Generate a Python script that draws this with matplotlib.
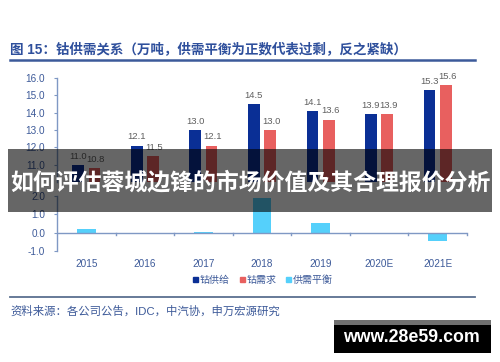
import matplotlib
matplotlib.use("Agg")
import matplotlib.pyplot as plt
import numpy as np
from matplotlib.patches import Patch, Rectangle
from matplotlib.lines import Line2D

plt.rcParams['font.family'] = ['Liberation Sans', 'Noto Sans CJK SC', 'DejaVu Sans']

categories = ['2015', '2016', '2017', '2018', '2019', '2020E', '2021E']
supply = [11.0, 12.1, 13.0, 14.5, 14.1, 13.9, 15.3]
demand = [10.8, 11.5, 12.1, 13.0, 13.6, 13.9, 15.6]
balance = [0.2, -0.05, 0.04, 1.9, 0.55, 0.0, -0.47]
upper_ticks = [11.0, 12.0, 13.0, 14.0, 15.0, 16.0]
lower_ticks = [-1.0, 0.0, 1.0, 2.0]
legend_labels = ['钴供给', '钴需求', '供需平衡']

title = '图 15：钴供需关系（万吨，供需平衡为正数代表过剩，反之紧缺）'
source = '资料来源：各公司公告，IDC，中汽协，申万宏源研究'
banner = '如何评估蓉城边锋的市场价值及其合理报价分析'
watermark = 'www.28e59.com'

c_sup = '#0a2f95'
c_dem = '#e8605f'
c_bal = '#55d0fb'
c_axis = '#7f98c4'
c_tick = '#3d5a99'
c_lbl = '#606060'

W, H = 500, 362
fig = plt.figure(figsize=(5, 3.62), dpi=100)

def fx(px):
    return px / W

def fy(py):
    return 1 - py / H

x = np.arange(len(categories))
bw = 0.2
off = 0.14

# Upper axis
axu = fig.add_axes([fx(57), fy(182), fx(467) - fx(57), fy(78) - fy(182)])
axu.bar(x - off, supply, bw, color=c_sup, zorder=2)
axu.bar(x + off, demand, bw, color=c_dem, zorder=2)
for i in range(len(categories)):
    axu.annotate(f'{supply[i]:.1f}', (x[i] - off, supply[i]), xytext=(0, 3),
                 textcoords='offset points', ha='center', va='bottom', fontsize=6.8, color=c_lbl)
    axu.annotate(f'{demand[i]:.1f}', (x[i] + off, demand[i]), xytext=(1, 3),
                 textcoords='offset points', ha='center', va='bottom', fontsize=6.8, color=c_lbl)
axu.set_xlim(-0.5, len(categories) - 0.5)
axu.set_ylim(10, 16)
axu.set_yticks(upper_ticks)
axu.set_yticklabels([f'{t:.1f}' for t in upper_ticks])
axu.set_xticks([])
for s in ['top', 'right', 'bottom']:
    axu.spines[s].set_visible(False)
axu.spines['left'].set_color(c_axis)
axu.spines['left'].set_linewidth(1.0)
axu.tick_params(axis='y', colors=c_axis, labelcolor=c_tick, labelsize=7.2, length=2.5, pad=6)

# Lower axis
axl = fig.add_axes([fx(57), fy(251), fx(467) - fx(57), fy(196) - fy(251)])
axl.bar(x, balance, 0.32, color=c_bal, zorder=2)
axl.set_xlim(-0.5, len(categories) - 0.5)
axl.set_ylim(-1, 2)
axl.set_yticks(lower_ticks)
axl.set_yticklabels([f'{t:.1f}' for t in lower_ticks])
for s in ['top', 'right', 'bottom']:
    axl.spines[s].set_visible(False)
axl.spines['left'].set_color(c_axis)
axl.spines['left'].set_linewidth(1.0)
axl.axhline(0, color=c_axis, lw=1.0, zorder=3)
for k in np.arange(0.5, len(categories), 1.0):
    axl.plot([k, k], [0, -0.1], color=c_axis, lw=1.0, zorder=3, clip_on=False)
axl.tick_params(axis='y', colors=c_axis, labelcolor=c_tick, labelsize=7.2, length=2.5, pad=6)
axl.set_xticks(x)
axl.set_xticklabels(categories)
axl.tick_params(axis='x', length=0, labelcolor=c_tick, labelsize=7.2, pad=6)

# Legend
handles = [Patch(color=c_sup), Patch(color=c_dem), Patch(color=c_bal)]
fig.legend(handles, legend_labels, loc='center', bbox_to_anchor=(fx(263), fy(280)),
           ncol=3, frameon=False, fontsize=7.2, handlelength=0.5, handleheight=0.5,
           handletextpad=0.15, columnspacing=1.0, labelcolor=c_tick)

# Title and lines
fig.text(fx(10), fy(49), title, fontsize=9.75, fontweight='bold', color='#2e4f9c',
         ha='left', va='center')
fig.add_artist(Line2D([fx(10), fx(475)], [fy(59.5), fy(59.5)], color='#3c5a9a', lw=1.8))
fig.add_artist(Line2D([fx(10), fx(475)], [fy(297), fy(297)], color='#5a7090', lw=1.3))
fig.text(fx(10), fy(311), source, fontsize=8.2, color=c_tick, ha='left', va='center')

# Banner overlay
fig.add_artist(Rectangle((fx(8), fy(212)), fx(492) - fx(8), fy(149) - fy(212),
                         transform=fig.transFigure, facecolor='black', alpha=0.6,
                         edgecolor='none', zorder=10))
fig.text(fx(250), fy(183), banner, fontsize=16.5, fontweight='bold', color='white',
         ha='center', va='center', zorder=11)

# Watermark box
fig.add_artist(Rectangle((fx(334), fy(353)), fx(491) - fx(334), fy(320) - fy(353),
                         transform=fig.transFigure, facecolor='black',
                         edgecolor='none', zorder=10))
fig.add_artist(Rectangle((fx(334), fy(325)), fx(491) - fx(334), fy(320) - fy(325),
                         transform=fig.transFigure, facecolor='#707070',
                         edgecolor='none', zorder=11))
fig.text(fx(411), fy(338), watermark, fontsize=12.8, fontweight='bold', color='white',
         ha='center', va='center', zorder=12)

fig.savefig('out.png', dpi=100)
